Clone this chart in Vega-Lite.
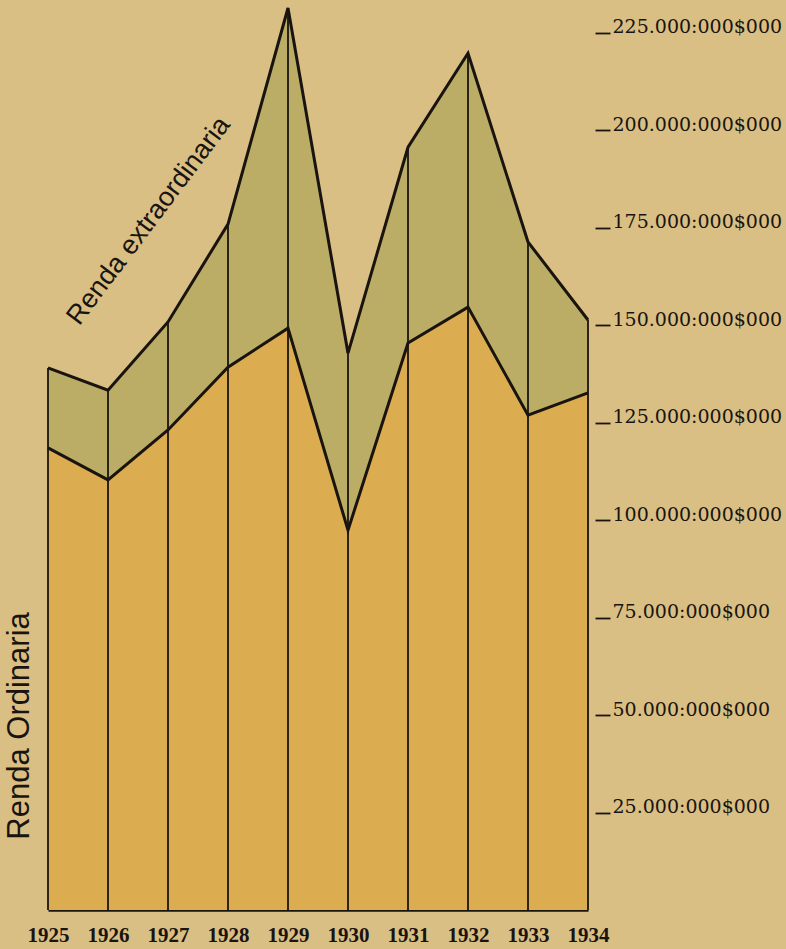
{
  "$schema": "https://vega.github.io/schema/vega-lite/v6.json",
  "width": 540,
  "height": 902,
  "autosize": {"type": "none"},
  "padding": {"left": 48, "top": 8, "right": 198, "bottom": 39},
  "background": "#d9bf84",
  "config": {"view": {"stroke": null}},
  "datasets": {
    "renda": [
      {"ano": 1925, "ordinaria": 118.5, "total": 139.0},
      {"ano": 1926, "ordinaria": 110.3, "total": 133.3},
      {"ano": 1927, "ordinaria": 123.1, "total": 150.8},
      {"ano": 1928, "ordinaria": 139.2, "total": 175.9},
      {"ano": 1929, "ordinaria": 149.2, "total": 231.3},
      {"ano": 1930, "ordinaria": 97.4, "total": 142.8},
      {"ano": 1931, "ordinaria": 145.4, "total": 195.6},
      {"ano": 1932, "ordinaria": 154.6, "total": 219.7},
      {"ano": 1933, "ordinaria": 126.9, "total": 171.3},
      {"ano": 1934, "ordinaria": 132.6, "total": 151.3}
    ],
    "rotulos": [
      {"texto": "Renda extraordinaria", "ano": 1926.68, "valor": 176.7, "angulo": -53, "tamanho": 27},
      {"texto": "Renda Ordinaria", "ano": 1924.53, "valor": 47.2, "angulo": -90, "tamanho": 31}
    ]
  },
  "encoding": {
    "x": {
      "field": "ano",
      "type": "quantitative",
      "scale": {"domain": [1925, 1934], "nice": false, "zero": false},
      "axis": {
        "title": null,
        "values": [1925, 1926, 1927, 1928, 1929, 1930, 1931, 1932, 1933, 1934],
        "format": "d",
        "grid": false,
        "ticks": false,
        "domain": true,
        "domainColor": "#1a1410",
        "domainWidth": 2.5,
        "labelFont": "Liberation Serif",
        "labelFontSize": 21,
        "labelFontWeight": "bold",
        "labelColor": "#1a1410",
        "labelPadding": 14,
        "labelFlush": false
      }
    }
  },
  "layer": [
    {
      "data": {"name": "renda"},
      "mark": {"type": "area", "color": "#bcad66", "opacity": 1},
      "encoding": {
        "y": {
          "field": "total",
          "type": "quantitative",
          "scale": {"domain": [0, 231.3], "nice": false},
          "axis": {
            "orient": "right",
            "title": null,
            "values": [25, 50, 75, 100, 125, 150, 175, 200, 225],
            "labelExpr": "datum.value + '.000:000$000'",
            "grid": false,
            "domain": false,
            "offset": 7,
            "tickSize": 15,
            "tickWidth": 1.8,
            "tickColor": "#1a1410",
            "labelPadding": 2,
            "labelBaseline": "alphabetic",
            "labelFont": "DejaVu Serif",
            "labelFontSize": 19,
            "labelColor": "#1a1410"
          }
        },
        "y2": {"field": "ordinaria"}
      }
    },
    {
      "data": {"name": "renda"},
      "mark": {"type": "area", "color": "#dcad50", "opacity": 1},
      "encoding": {
        "y": {"field": "ordinaria", "type": "quantitative"},
        "y2": {"datum": 0}
      }
    },
    {
      "data": {"name": "renda"},
      "mark": {"type": "rule", "color": "#1a1410", "strokeWidth": 1.8},
      "encoding": {
        "y": {"field": "total", "type": "quantitative"},
        "y2": {"datum": 0}
      }
    },
    {
      "data": {"name": "renda"},
      "mark": {"type": "line", "color": "#1a1410", "strokeWidth": 3, "strokeJoin": "miter"},
      "encoding": {"y": {"field": "ordinaria", "type": "quantitative"}}
    },
    {
      "data": {"name": "renda"},
      "mark": {"type": "line", "color": "#1a1410", "strokeWidth": 3, "strokeJoin": "miter"},
      "encoding": {"y": {"field": "total", "type": "quantitative"}}
    },
    {
      "data": {"name": "rotulos"},
      "mark": {
        "type": "text",
        "font": "Liberation Sans",
        "color": "#1a1410",
        "align": "center",
        "baseline": "middle"
      },
      "encoding": {
        "y": {"field": "valor", "type": "quantitative"},
        "text": {"field": "texto"},
        "angle": {"field": "angulo", "type": "quantitative", "scale": null},
        "size": {"field": "tamanho", "type": "quantitative", "scale": null}
      }
    }
  ]
}
